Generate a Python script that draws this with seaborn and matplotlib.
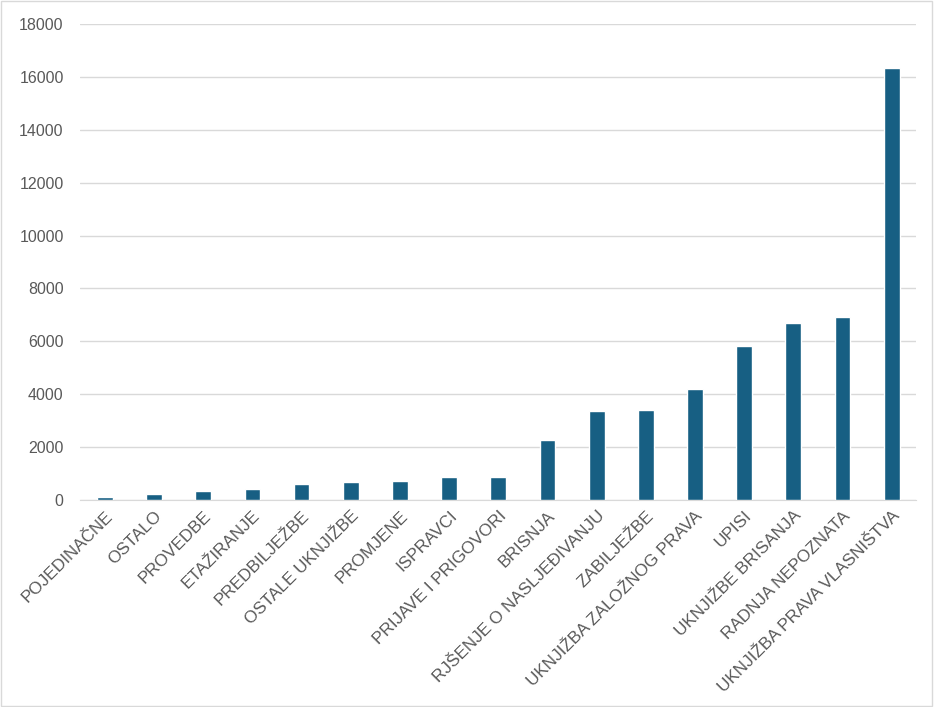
import matplotlib
matplotlib.use("Agg")
import pandas as pd
import seaborn as sns
import matplotlib.pyplot as plt

# Data
categories = [
    "POJEDINAČNE", "OSTALO", "PROVEDBE", "ETAŽIRANJE", "PREDBILJEŽBE",
    "OSTALE UKNJIŽBE", "PROMJENE", "ISPRAVCI", "PRIJAVE I PRIGOVORI",
    "BRISNJA", "RJŠENJE O NASLJEĐIVANJU", "ZABILJEŽBE",
    "UKNJIŽBA ZALOŽNOG PRAVA", "UPISI", "UKNJIŽBE BRISANJA",
    "RADNJA NEPOZNATA", "UKNJIŽBA PRAVA VLASNIŠTVA",
]
counts = [126, 218, 318, 409, 600, 677, 715, 868, 880,
          2280, 3357, 3410, 4180, 5830, 6680, 6920, 16320]
y_ticks = [0, 2000, 4000, 6000, 8000, 10000, 12000, 14000, 16000, 18000]

df = pd.DataFrame({"kategorija": categories, "broj": counts})

sns.set_style("white")
plt.rcParams["font.family"] = ["Liberation Sans", "DejaVu Sans"]

text_color = "#595959"
bar_color = "#175F83"

fig = plt.figure(figsize=(9.34, 7.07), dpi=100)
ax = fig.add_axes([0.086, 0.293, 0.895, 0.673])

sns.barplot(data=df, x="kategorija", y="broj", color=bar_color,
            width=0.32, saturation=1, ax=ax, zorder=3)

ax.set_ylim(0, 18000)
ax.set_xlim(-0.5, len(categories) - 0.5)
ax.set_yticks(y_ticks)
ax.set_yticklabels([str(v) for v in y_ticks], fontsize=11.5, color=text_color)
ax.set_xticks(range(len(categories)))
ax.set_xticklabels(categories, rotation=45, ha="right", rotation_mode="anchor",
                   fontsize=12.3, color=text_color)
ax.tick_params(axis="y", length=0, pad=12)
ax.tick_params(axis="x", length=0, pad=6)

ax.grid(axis="y", color="#D9D9D9", linewidth=1, zorder=0)
ax.set_axisbelow(True)
for side in ["top", "right", "left"]:
    ax.spines[side].set_visible(False)
ax.spines["bottom"].set_color("#D9D9D9")
ax.set_xlabel("")
ax.set_ylabel("")

# thin frame around the whole chart
fig.patches.append(plt.Rectangle((0.001, 0.001), 0.997, 0.997, transform=fig.transFigure,
                                 fill=False, edgecolor="#D9D9D9", linewidth=1))

plt.savefig("out.png", dpi=100)
plt.close()
